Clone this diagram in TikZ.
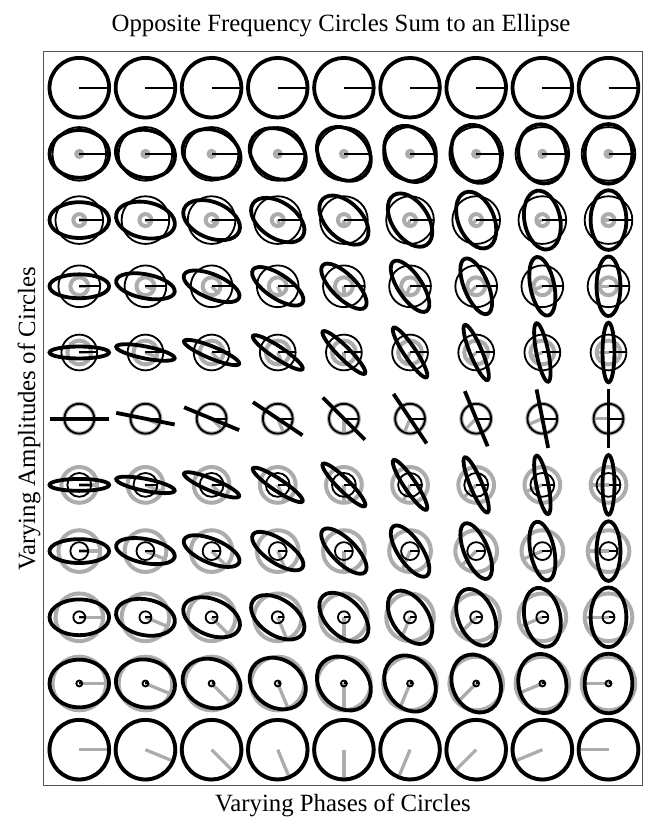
\documentclass[tikz,border=0pt]{standalone}
\usepackage{fontspec}
\setmainfont{Liberation Serif}
\definecolor{gr}{RGB}{172,172,172}
\definecolor{boxc}{RGB}{85,85,85}
\tikzset{
  graycirc/.style={draw=gr,line width=4pt},
  grayrad/.style={draw=gr,line width=3.3pt},
  blackcirc/.style={draw=black,line width=1.8pt},
  blackrad/.style={draw=black,line width=2pt},
  sumell/.style={draw=black,line width=3.8pt},
  lbl/.style={inner sep=0pt,anchor=base,font=\fontsize{24.8}{30}\selectfont}
}
\begin{document}
\begin{tikzpicture}[x=1pt,y=1pt]
\useasboundingbox (0,0) rectangle (652,822);
\draw[draw=boxc,line width=1pt] (43,36) rectangle (642,770);
\foreach \r in {0,...,10}{
  \foreach \c in {0,...,8}{
    \pgfmathsetmacro{\ra}{(10-\r)/10*29.8}
    \pgfmathsetmacro{\rb}{\r/10*29.8}
    \pgfmathsetmacro{\ph}{-22.5*\c}
    \pgfmathsetmacro{\sm}{abs(\ra-\rb)}
    \begin{scope}[shift={(79.3+66.15*\c,734.3-66.2*\r)}]
      \ifnum\r>0
        \draw[graycirc] (0,0) circle[radius=\rb];
        \draw[grayrad] (0,0) -- (\ph:\rb);
      \fi
      \ifnum\r<10
        \draw[blackcirc] (0,0) circle[radius=\ra];
        \draw[blackrad] (0,0) -- (0:\ra);
      \fi
      \ifnum\r=5
        \draw[sumell,rotate=\ph/2] (-29.8,0) -- (29.8,0);
      \else
        \draw[sumell,rotate=\ph/2] (0,0) ellipse[x radius=29.8,y radius=\sm];
      \fi
    \end{scope}
  }
}
\node[lbl] (title) at (341,790.3) {Opposite Frequency Circles Sum to an Ellipse};
\node[lbl] (xlabel) at (343,10.3) {Varying Phases of Circles};
\node[lbl,rotate=90] (ylabel) at (35,403) {Varying Amplitudes of Circles};
\end{tikzpicture}
\end{document}
